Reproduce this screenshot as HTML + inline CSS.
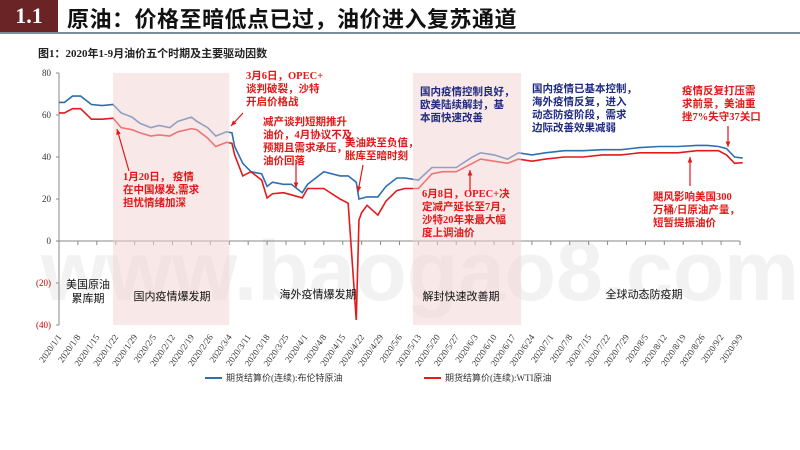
<!DOCTYPE html>
<html><head><meta charset="utf-8">
<style>
body{margin:0;width:800px;height:450px;background:#fff;overflow:hidden;font-family:"Liberation Serif","Noto Sans CJK SC",serif;position:relative}
.hdr{position:absolute;left:0;top:0;width:58px;height:32px;background:#6b2426;color:#fff;font:bold 22px "Liberation Serif",serif;text-align:center;line-height:32px}
.title{position:absolute;left:67px;top:2px;font:bold 22px "Noto Sans CJK SC",sans-serif;color:#111;letter-spacing:0.5px}
.rule{position:absolute;left:0;top:32px;width:800px;height:2px;background:#7a8f9a}
</style></head><body>
<div class="hdr">1.1</div>
<div class="title">原油：价格至暗低点已过，油价进入复苏通道</div>
<div class="rule"></div>
<svg id="chart" width="800" height="450" style="position:absolute;left:0;top:0"></svg>
<script>
const brentDates=["1/1","1/3","1/6","1/9","1/13","1/17","1/21","1/24","1/28","1/31","2/4","2/7","2/11","2/14","2/19","2/21","2/25","2/28","3/3","3/5","3/6","3/9","3/12","3/16","3/18","3/20","3/24","3/27","3/31","4/2","4/8","4/14","4/17","4/20","4/21","4/24","4/28","5/1","5/5","5/8","5/13","5/18","5/22","5/27","6/2","6/5","6/10","6/15","6/19","6/24","6/29","7/6","7/13","7/20","7/27","8/3","8/10","8/17","8/24","8/28","9/1","9/4","9/7","9/10"];
const brentVals=[66,66,69,69,65,64.5,65,61,59,56,54,55,54,57,59,57,54,50,52,51.5,45,37,33,32,26,28,27,27,23,27,33,31,31,28,20,21,21,26,30,30,29,35,35,35,40,42,41,39,42,41,42,43,43,43.5,43.5,44.5,45,45,45.5,45.5,45,44,40,39.5];
const wtiDates=["1/1","1/3","1/6","1/9","1/13","1/17","1/21","1/24","1/28","1/31","2/4","2/7","2/11","2/14","2/19","2/21","2/25","2/28","3/3","3/5","3/6","3/9","3/12","3/16","3/18","3/20","3/24","3/27","3/31","4/2","4/8","4/14","4/17","4/20","4/21","4/22","4/24","4/28","5/1","5/5","5/8","5/13","5/18","5/22","5/27","6/2","6/5","6/10","6/15","6/19","6/24","6/29","7/6","7/13","7/20","7/27","8/3","8/10","8/17","8/24","8/28","9/1","9/4","9/7","9/10"];
const wtiVals=[61,61,63,63,58,58,58.5,54,53,51.5,50,50.5,50,52,53.5,53,49,45,47,46.5,41,31,33,29,20.5,22.5,23,22,20.5,25,25,20,18,-37.6,10,13.5,17,12.3,19,24,25,25,32,33,33,37,39,38,37,39,38,39,40,40,41,41,42,42,42,43,43,43,41,37,37.3];
const yTicks=[80,60,40,20,0,-20,-40];
const yTickLabels=["80","60","40","20","0","(20)","(40)"];
const xTickLabels=["2020/1/1","2020/1/8","2020/1/15","2020/1/22","2020/1/29","2020/2/5","2020/2/12","2020/2/19","2020/2/26","2020/3/4","2020/3/11","2020/3/18","2020/3/25","2020/4/1","2020/4/8","2020/4/15","2020/4/22","2020/4/29","2020/5/6","2020/5/13","2020/5/20","2020/5/27","2020/6/3","2020/6/10","2020/6/17","2020/6/24","2020/7/1","2020/7/8","2020/7/15","2020/7/22","2020/7/29","2020/8/5","2020/8/12","2020/8/19","2020/8/26","2020/9/2","2020/9/9"];

const NS="http://www.w3.org/2000/svg";
const svg=document.getElementById('chart');
const X0=59,X1=740,Y0=241;
const cum=[0,31,60,91,121,152,182,213,244];
function dayOf(s){const p=s.split('/').map(Number);return cum[p[0]-1]+p[1]-1;}
function xs(s){const d=typeof s==='number'?s:dayOf(s.replace(/^2020\//,''));return X0+d*(X1-X0)/252;}
function ys(v){return Y0-v*2.1;}
function el(t,a,p){const e=document.createElementNS(NS,t);for(const k in a)e.setAttribute(k,a[k]);(p||svg).appendChild(e);return e;}
function txt(x,y,s,a){const e=el('text',Object.assign({x:x,y:y},a));e.textContent=s;return e;}

const wm=txt(420,300,"www.baogao8.com",{"text-anchor":"middle","font-size":"84","font-family":"Liberation Sans, sans-serif","fill":"#f2f2f2","font-weight":"bold"});


const cap=txt(38,57,"图1：2020年1-9月油价五个时期及主要驱动因数",{"font-size":"11","font-weight":"bold","fill":"#222"});


const ya=el('line',{x1:X0,y1:73,x2:X0,y2:325,stroke:"#888"});

yTicks.forEach((v,i)=>{
  el('line',{x1:X0-3,y1:ys(v),x2:X0,y2:ys(v),stroke:"#888"});
  const t=txt(X0-8,ys(v)+3,yTickLabels[i],{"text-anchor":"end","font-size":"9","fill":v<0?"#c00":"#333"});
  
});
const xa=el('line',{x1:X0,y1:Y0,x2:X1,y2:Y0,stroke:"#888"});

xTickLabels.forEach(l=>{
  const x=xs(l);
  el('line',{x1:x,y1:Y0,x2:x,y2:Y0+4,stroke:"#888"});
  const t=txt(x+3,337,l,{"text-anchor":"end","font-size":"9","fill":"#333","transform":`rotate(-55 ${x+3} 337)`});
  
});

function line(dates,vals,color,name){
  const p=el('polyline',{points:dates.map((d,i)=>xs(d)+","+ys(vals[i])).join(' '),fill:"none",stroke:color,"stroke-width":"1.6"});
  
}
line(brentDates,brentVals,"#2e6fb0","brent-line");
line(wtiDates,wtiVals,"#e3191c","wti-line");

[["1/21","3/4","domestic-outbreak-band"],["5/11","6/20","reopening-band"]].forEach(b=>{
  const r=el('rect',{x:xs(b[0]),y:73,width:xs(b[1])-xs(b[0]),height:252,fill:"#f3d2d2","fill-opacity":"0.5"});
  
});

[[88,288,"美国原油"],[88,302,"累库期"],[172,300,"国内疫情爆发期"],[318,298,"海外疫情爆发期"],[461,300,"解封快速改善期"],[644,298,"全球动态防疫期"]].forEach(p=>{
  const t=txt(p[0],p[1],p[2],{"text-anchor":"middle","font-size":"11","fill":"#111","font-family":"Noto Sans CJK SC, sans-serif"});
  
});

function ann(x,y,lines,color){lines.forEach((s,i)=>{const t=txt(x,y+i*13,s,{"font-size":"10.5","fill":color,"font-weight":"bold","font-family":"Liberation Serif, Noto Sans CJK SC, serif"});});}
const R="#e01818",B="#1f2a80";
ann(246,79,["3月6日，OPEC+","谈判破裂，沙特","开启价格战"],R);
ann(263,125,["减产谈判短期推升","油价，4月协议不及","预期且需求承压，","油价回落"],R);
ann(345,146,["美油跌至负值，","胀库至暗时刻"],R);
ann(123,180,["1月20日， 疫情","在中国爆发,需求","担忧情绪加深"],R);
ann(422,197,["6月8日，OPEC+决","定减产延长至7月，","沙特20年来最大幅","度上调油价"],R);
ann(420,95,["国内疫情控制良好，","欧美陆续解封，基","本面快速改善"],B);
ann(532,92,["国内疫情已基本控制，","海外疫情反复，进入","动态防疫阶段，需求","边际改善效果减弱"],B);
ann(682,94,["疫情反复打压需","求前景，美油重","挫7%失守37关口"],R);
ann(653,200,["飓风影响美国300","万桶/日原油产量，","短暂提振油价"],R);

function arrow(x1,y1,x2,y2){const a=Math.atan2(y2-y1,x2-x1),h=6;
 el('line',{x1:x1,y1:y1,x2:x2,y2:y2,stroke:R,"stroke-width":"1.2"});
 const g=el('polygon',{points:`${x2},${y2} ${x2-h*Math.cos(a-0.4)},${y2-h*Math.sin(a-0.4)} ${x2-h*Math.cos(a+0.4)},${y2-h*Math.sin(a+0.4)}`,fill:R});
 }
arrow(243,113,231,126);arrow(129,171,117,129);arrow(296,161,296,188);arrow(363,165,358,192);arrow(470,192,470,170);arrow(728,126,728,147);arrow(690,186,690,157);

el('line',{x1:205,y1:378,x2:222,y2:378,stroke:"#2e6fb0","stroke-width":"2"});
const l1=txt(226,381,"期货结算价(连续):布伦特原油",{"font-size":"9","fill":"#333"});

el('line',{x1:424,y1:378,x2:441,y2:378,stroke:"#e3191c","stroke-width":"2"});
const l2=txt(445,381,"期货结算价(连续):WTI原油",{"font-size":"9","fill":"#333"});

</script>
</body></html>
